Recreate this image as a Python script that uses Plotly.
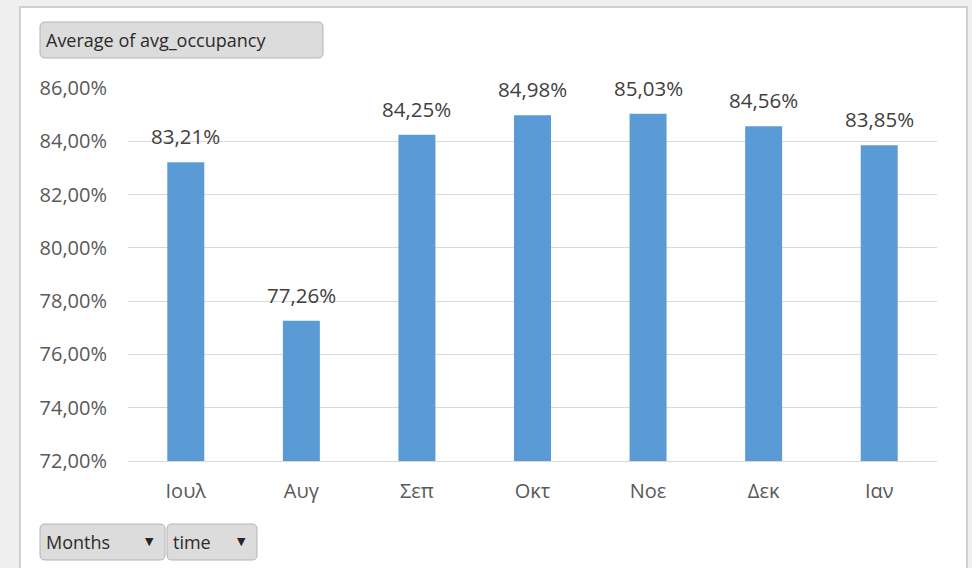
import plotly.graph_objects as go

months = ["Ιουλ", "Αυγ", "Σεπ", "Οκτ", "Νοε", "Δεκ", "Ιαν"]
avg_occupancy = [0.8321, 0.7726, 0.8425, 0.8498, 0.8503, 0.8456, 0.8385]
y_ticks = [0.72, 0.74, 0.76, 0.78, 0.80, 0.82, 0.84, 0.86]

W, H = 972, 568
L, R, T, B = 128, 937, 88, 461
PW, PH = R - L, B - T

def px(x):
    return (x - L) / PW

def py(y):
    return (B - y) / PH

def rounded(x0, y0, x1, y1, r=5):
    X0, X1 = px(x0), px(x1)
    Y0, Y1 = py(y0), py(y1)
    rx, ry = r / PW, r / PH
    return (f"M{X0+rx},{Y0} L{X1-rx},{Y0} Q{X1},{Y0} {X1},{Y0-ry} "
            f"L{X1},{Y1+ry} Q{X1},{Y1} {X1-rx},{Y1} L{X0+rx},{Y1} "
            f"Q{X0},{Y1} {X0},{Y1+ry} L{X0},{Y0-ry} Q{X0},{Y0} {X0+rx},{Y0} Z")

fig = go.Figure()
fig.add_trace(go.Bar(
    x=months, y=avg_occupancy,
    marker=dict(color="#5b9bd5", line=dict(width=0)),
    width=0.32, hoverinfo="skip",
))

annotations = []
# data labels, placed from the data values
for m, v in zip(months, avg_occupancy):
    annotations.append(dict(x=m, y=v, xref="x", yref="y", text=f"{v*100:.2f}%".replace(".", ","),
                            showarrow=False, yanchor="bottom", xanchor="center", yshift=10,
                            font=dict(size=20.5, color="#404040", family="Open Sans")))

shapes = [
    dict(type="rect", xref="paper", yref="paper", x0=px(20), x1=px(967), y0=py(7), y1=py(575),
         fillcolor="white", line=dict(color="#d0d0d0", width=2), layer="below"),
]
buttons = [
    (40, 22, 323, 58, "Average of avg_occupancy", False),
    (40, 524, 165, 560, "Months", True),
    (167, 524, 257, 560, "time", True),
]
for x0, y0, x1, y1, label, dd in buttons:
    shapes.append(dict(type="path", xref="paper", yref="paper", path=rounded(x0, y0, x1, y1),
                       fillcolor="#dcdcdc", line=dict(color="#b4b4b4", width=1), layer="above"))
    annotations.append(dict(xref="paper", yref="paper", x=px(x0 + 4), y=py((y0 + y1) / 2),
                            xanchor="left", yanchor="middle", showarrow=False, text=label,
                            font=dict(size=18, color="#2b2b2b", family="Open Sans")))
    if dd:
        annotations.append(dict(xref="paper", yref="paper", x=px(x1 - 16), y=py((y0 + y1) / 2 - 1),
                                xanchor="center", yanchor="middle", showarrow=False, text="▼",
                                font=dict(size=11, color="#262626", family="DejaVu Sans")))

fig.update_layout(
    width=W, height=H,
    margin=dict(l=L, r=W - R, t=T, b=H - B),
    paper_bgcolor="#efefef", plot_bgcolor="rgba(0,0,0,0)",
    separators=",.",
    showlegend=False,
    bargap=0.68,
    font=dict(family="Open Sans", color="#595959"),
    shapes=shapes,
    annotations=annotations,
    xaxis=dict(showgrid=False, showline=True, linecolor="#d9d9d9", linewidth=1,
               tickfont=dict(size=20, color="#595959"), ticks="", ticklabelstandoff=12),
    yaxis=dict(range=[0.72, 0.86], tickvals=y_ticks, tickformat=".2%",
               showgrid=True, gridcolor="#d9d9d9", gridwidth=1, zeroline=False,
               tickfont=dict(size=20, color="#595959"), ticks="", ticklabelstandoff=20),
)

fig.write_html("out.html", config={"displayModeBar": False},
               post_script="document.body.style.margin='0';")
